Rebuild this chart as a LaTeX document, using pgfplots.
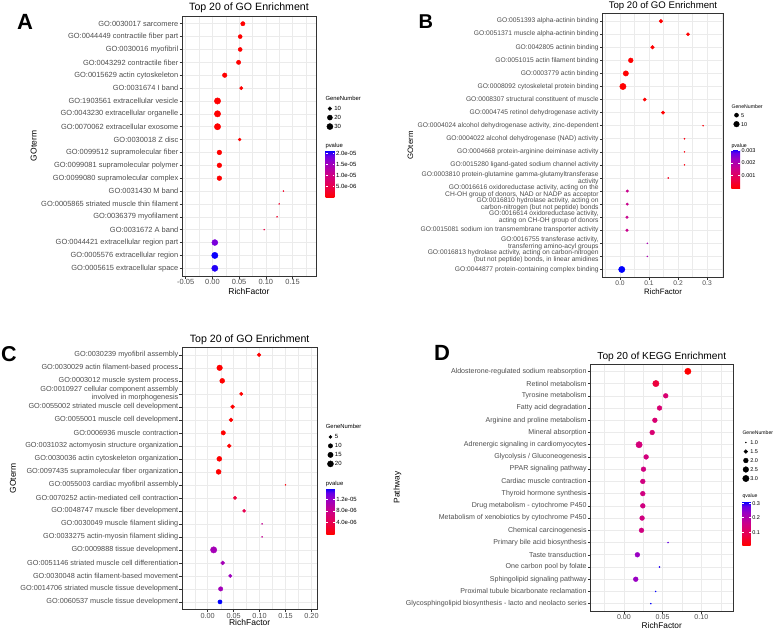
\documentclass[border=0pt]{standalone}
\usepackage{fontspec}
\setmainfont{Liberation Sans}
\usepackage{pgfplots}
\usepackage{pgfplotstable}
\pgfplotsset{compat=1.18}
\definecolor{tickgray}{RGB}{77,77,77}
\definecolor{gridgray}{RGB}{235,235,235}
\definecolor{framegray}{RGB}{51,51,51}

\pgfplotstableread{
y x n p
1 0.057 14 1e-8
2 0.052 12 1e-8
3 0.052 12 1e-8
4 0.049 14 1e-8
5 0.023 16 1e-8
6 0.054 8 1e-8
7 0.0095 33 1e-8
8 0.0095 33 1e-8
9 0.0095 33 1e-8
10 0.051 6 1e-8
11 0.013 17 1e-8
12 0.013 17 1e-8
13 0.013 17 1e-8
14 0.133 2 2.5e-6
15 0.125 2 3e-6
16 0.121 2 3e-6
17 0.097 2 4.5e-6
18 0.0045 29 1.8e-5
19 0.0045 33 2.1e-5
20 0.0045 32 2.05e-5
}\dataA

\pgfplotstableread{
y x n p
1 0.141 4 1e-5
2 0.234 3 1e-5
3 0.112 4 1e-5
4 0.037 7 1e-5
5 0.020 9 1e-5
6 0.010 13 1e-5
7 0.085 3 1e-5
8 0.148 3 1e-5
9 0.286 1 1e-4
10 0.222 1 1.5e-4
11 0.222 1 1.5e-4
12 0.222 1 1.5e-4
13 0.166 1 3e-4
14 0.025 2 0.0016
15 0.025 2 0.0016
16 0.024 2 0.0016
17 0.024 2 0.0016
18 0.094 1 0.0021
19 0.094 1 0.0021
20 0.006 13 0.0031
}\dataB

\pgfplotstableread{
y x n p
1 0.099 7 1e-9
2 0.023 17 1e-9
3 0.028 13 1e-9
4 0.0646 6 1e-9
5 0.048 8 1e-9
6 0.0448 8 1e-9
7 0.030 10 1e-9
8 0.0416 8 1e-9
9 0.0224 13 1e-9
10 0.021 13 1e-9
11 0.150 2 5e-7
12 0.0525 6 3e-6
13 0.0703 5 4e-6
14 0.1048 2 8.5e-6
15 0.1048 2 8.5e-6
16 0.0115 22 1.1e-5
17 0.0288 8 1.1e-5
18 0.0435 6 1.15e-5
19 0.025 10 1.12e-5
20 0.0237 9 1.58e-5
}\dataC

\pgfplotstableread{
y x n p
1 0.0826 3 0.012
2 0.0413 3 0.07
3 0.054 2 0.13
4 0.046 2 0.13
5 0.040 2 0.13
6 0.0365 2 0.13
7 0.0196 3 0.14
8 0.0287 2 0.145
9 0.0253 2 0.15
10 0.0244 2 0.15
11 0.0244 2 0.15
12 0.0244 2 0.15
13 0.0235 2 0.15
14 0.0227 2 0.15
15 0.057 1 0.28
16 0.0174 2 0.235
17 0.046 1 0.30
18 0.0153 2 0.235
19 0.041 1 0.31
20 0.0348 1 0.31
}\dataD

\pgfplotsset{
  colormap={rb}{rgb255(0pt)=(255,0,0) rgb255(25pt)=(232,0,79) rgb255(50pt)=(204,0,137) rgb255(75pt)=(154,0,195) rgb255(90pt)=(104,0,231) rgb255(100pt)=(0,0,255)},
  enrich/.style={
    scale only axis,
    colormap name=rb,
    y dir=reverse, ymin=0.4, ymax=20.6, ytick={1,...,20},
    axis line style={framegray, line width=0.6pt},
    tick align=outside, tick pos=left,
    major tick length=2.5pt,
    major tick style={framegray, line width=0.5pt},
    minor tick length=0pt,
    xmajorgrids, ymajorgrids, xminorgrids,
    major grid style={gridgray, line width=0.55pt},
    minor grid style={gridgray, line width=0.3pt},
    yticklabel style={text=tickgray, align=right, inner sep=1pt},
    xticklabel style={text=tickgray, inner sep=1pt},
    scaled x ticks=false,
    clip=false,
    legend cell align=left,
    legend style={draw=none, fill=none, inner sep=0pt, anchor=north west, row sep=0pt, column sep=0.5pt,
      nodes={inner sep=0.5pt, text depth=0pt}},
    legend image code/.code={\path[draw=none,fill=none] (0pt,-4.5pt) rectangle (7pt,4.5pt); \draw[##1, draw=black, fill=black, mark options={draw=black, fill=black}] plot coordinates {(3.5pt,0pt)};},
    colorbar,
    colorbar shift/.style={},
    colorbar style={at={(parent axis.north east)}, anchor=north west, scale only axis,
      axis line style={draw=none}, x axis line style={draw=none}, y axis line style={draw=none},
      xtick=\empty, ytick pos=both, yticklabel pos=right,
      tick align=inside, major tick length=1.8pt,
      major tick style={white, line width=0.6pt},
      yticklabel style={text=black, inner sep=1.5pt},
      scaled y ticks=false},
  },
  dots/.style={scatter, only marks, mark=*, forget plot, point meta=explicit,
    scatter/use mapped color={draw=mapped color, fill=mapped color},
    scatter/@pre marker code/.append style={/tikz/mark size=\msz}},
}

\begin{document}
\begin{tikzpicture}
\useasboundingbox (0,0) rectangle (777pt,-630pt);

% ---------------- A ----------------
\begin{axis}[enrich,
  at={(182pt,-16pt)}, anchor=north west, width=134pt, height=260pt,
  xmin=-0.057, xmax=0.194,
  xtick={-0.05,0,0.05,0.1,0.15}, xticklabels={-0.05,0.00,0.05,0.10,0.15},
  minor xtick={-0.025,0.025,0.075,0.125,0.175},
  yticklabels={GO:0030017 sarcomere,GO:0044449 contractile fiber part,GO:0030016 myofibril,GO:0043292 contractile fiber,GO:0015629 actin cytoskeleton,GO:0031674 I band,GO:1903561 extracellular vesicle,GO:0043230 extracellular organelle,GO:0070062 extracellular exosome,GO:0030018 Z disc,GO:0099512 supramolecular fiber,GO:0099081 supramolecular polymer,GO:0099080 supramolecular complex,GO:0031430 M band,GO:0005865 striated muscle thin filament,GO:0036379 myofilament,GO:0031672 A band,GO:0044421 extracellular region part,GO:0005576 extracellular region,GO:0005615 extracellular space},
  ticklabel style={font=\fontsize{7.45}{8.5}\selectfont},
  title={Top 20 of GO Enrichment},
  title style={font=\fontsize{10.6}{12}\selectfont, at={(0.5,1)}, anchor=base, yshift=-0.5pt},
  xlabel={RichFactor}, xlabel style={font=\fontsize{8.5}{10}\selectfont, at={(0.5,0)}, anchor=base, yshift=-18pt},
  ylabel={GOterm}, ylabel style={font=\fontsize{8.5}{10}\selectfont},
  point meta min=0, point meta max=2.12e-5,
  colorbar style={xshift=9.7pt, yshift=-134.7pt, width=8.6pt, height=47pt,
    ytick={5e-6,1e-5,1.5e-5,2e-5}, yticklabels={5.0e-06,1.0e-05,1.5e-05,2.0e-05},
    yticklabel style={font=\fontsize{6}{7}\selectfont}},
  legend style={at={(1.076,0.662)}, font=\fontsize{6}{7}\selectfont},
]
\addplot[dots, visualization depends on={0.53*(1+5*sqrt((\thisrow{n}-2)/31)) \as \msz}] table[x=x,y=y,meta=p]{\dataA};
\addlegendimage{mark=*, mark size=1.88pt}\addlegendentry{10}
\addlegendimage{mark=*, mark size=2.55pt}\addlegendentry{20}
\addlegendimage{mark=*, mark size=3.05pt}\addlegendentry{30}
\end{axis}

% ---------------- B ----------------
\begin{axis}[enrich,
  at={(602.3pt,-13.3pt)}, anchor=north west, width=121.4pt, height=264pt,
  xmin=-0.061, xmax=0.357,
  xtick={0,0.1,0.2,0.3}, xticklabels={0.0,0.1,0.2,0.3},
  minor xtick={-0.05,0.05,0.15,0.25,0.35},
  yticklabels={GO:0051393 alpha-actinin binding,GO:0051371 muscle alpha-actinin binding,GO:0042805 actinin binding,GO:0051015 actin filament binding,GO:0003779 actin binding,GO:0008092 cytoskeletal protein binding,GO:0008307 structural constituent of muscle,GO:0004745 retinol dehydrogenase activity,{GO:0004024 alcohol dehydrogenase activity, zinc-dependent},GO:0004022 alcohol dehydrogenase (NAD) activity,GO:0004668 protein-arginine deiminase activity,GO:0015280 ligand-gated sodium channel activity,{GO:0003810 protein-glutamine gamma-glutamyltransferase\\activity},{GO:0016616 oxidoreductase activity, acting on the\\CH-OH group of donors, NAD or NADP as acceptor},{GO:0016810 hydrolase activity, acting on\\carbon-nitrogen (but not peptide) bonds},{GO:0016614 oxidoreductase activity,\\acting on CH-OH group of donors},GO:0015081 sodium ion transmembrane transporter activity,{GO:0016755 transferase activity,\\transferring amino-acyl groups},{GO:0016813 hydrolase activity, acting on carbon-nitrogen\\(but not peptide) bonds, in linear amidines},GO:0044877 protein-containing complex binding},
  ticklabel style={font=\fontsize{6.7}{6.9}\selectfont},
  title={Top 20 of GO Enrichment},
  title style={font=\fontsize{9.6}{11}\selectfont, at={(0.5,1)}, anchor=base, yshift=-1.5pt},
  xlabel={RichFactor}, xlabel style={font=\fontsize{7.8}{9}\selectfont, at={(0.5,0)}, anchor=base, yshift=-16.7pt},
  ylabel={GOterm}, ylabel style={font=\fontsize{7.8}{9}\selectfont},
  point meta min=0, point meta max=0.0031,
  colorbar style={xshift=7.6pt, yshift=-135.7pt, width=8.7pt, height=39.3pt,
    ytick={0.001,0.002,0.003}, yticklabels={0.001,0.002,0.003},
    yticklabel style={font=\fontsize{5.5}{6.5}\selectfont}},
  legend style={at={(1.075,0.632)}, font=\fontsize{5.5}{6.5}\selectfont},
]
\addplot[dots, visualization depends on={0.53*(1+5*sqrt((\thisrow{n}-1)/12)) \as \msz}] table[x=x,y=y,meta=p]{\dataB};
\addlegendimage{mark=*, mark size=2.06pt}\addlegendentry{5}
\addlegendimage{mark=*, mark size=2.83pt}\addlegendentry{10}
\end{axis}

% ---------------- C ----------------
\begin{axis}[enrich,
  at={(182pt,-347pt)}, anchor=north west, width=135.3pt, height=262.7pt,
  xmin=-0.0495, xmax=0.2112,
  xtick={-0.05,0,0.05,0.1,0.15,0.2}, xticklabels={-0.05,0.00,0.05,0.10,0.15,0.20},
  minor xtick={-0.025,0.025,0.075,0.125,0.175},
  yticklabels={GO:0030239 myofibril assembly,GO:0030029 actin filament-based process,GO:0003012 muscle system process,{GO:0010927 cellular component assembly\\involved in morphogenesis},GO:0055002 striated muscle cell development,GO:0055001 muscle cell development,GO:0006936 muscle contraction,GO:0031032 actomyosin structure organization,GO:0030036 actin cytoskeleton organization,GO:0097435 supramolecular fiber organization,GO:0055003 cardiac myofibril assembly,GO:0070252 actin-mediated cell contraction,GO:0048747 muscle fiber development,GO:0030049 muscle filament sliding,GO:0033275 actin-myosin filament sliding,GO:0009888 tissue development,GO:0051146 striated muscle cell differentiation,GO:0030048 actin filament-based movement,GO:0014706 striated muscle tissue development,GO:0060537 muscle tissue development},
  ticklabel style={font=\fontsize{7.3}{7.7}\selectfont},
  title={Top 20 of GO Enrichment},
  title style={font=\fontsize{10.6}{12}\selectfont, at={(0.5,1)}, anchor=base, yshift=-1pt},
  xlabel={RichFactor}, xlabel style={font=\fontsize{8.5}{10}\selectfont, at={(0.5,0)}, anchor=base, yshift=-15.5pt},
  ylabel={GOterm}, ylabel style={font=\fontsize{8.5}{10}\selectfont},
  point meta min=0, point meta max=1.58e-5,
  colorbar style={xshift=9pt, yshift=-141.3pt, width=8.4pt, height=45.7pt,
    ytick={4e-6,8e-6,1.2e-5}, yticklabels={4.0e-06,8.0e-06,1.2e-05},
    yticklabel style={font=\fontsize{6}{7}\selectfont}},
  legend style={at={(1.070,0.6757)}, font=\fontsize{6}{7}\selectfont},
]
\addplot[dots, visualization depends on={0.53*(1+5*sqrt((\thisrow{n}-2)/20)) \as \msz}] table[x=x,y=y,meta=p]{\dataC};
\addlegendimage{mark=*, mark size=1.56pt}\addlegendentry{5}
\addlegendimage{mark=*, mark size=2.2pt}\addlegendentry{10}
\addlegendimage{mark=*, mark size=2.67pt}\addlegendentry{15}
\addlegendimage{mark=*, mark size=3.04pt}\addlegendentry{20}
\end{axis}

% ---------------- D ----------------
\begin{axis}[enrich,
  at={(590.3pt,-364pt)}, anchor=north west, width=143pt, height=247pt,
  xmin=-0.0434, xmax=0.1413,
  xtick={0,0.05,0.1}, xticklabels={0.00,0.05,0.10},
  minor xtick={-0.025,0.025,0.075,0.125},
  yticklabels={Aldosterone-regulated sodium reabsorption,Retinol metabolism,Tyrosine metabolism,Fatty acid degradation,Arginine and proline metabolism,Mineral absorption,Adrenergic signaling in cardiomyocytes,Glycolysis / Gluconeogenesis,PPAR signaling pathway,Cardiac muscle contraction,Thyroid hormone synthesis,Drug metabolism - cytochrome P450,Metabolism of xenobiotics by cytochrome P450,Chemical carcinogenesis,Primary bile acid biosynthesis,Taste transduction,One carbon pool by folate,Sphingolipid signaling pathway,Proximal tubule bicarbonate reclamation,Glycosphingolipid biosynthesis - lacto and neolacto series},
  ticklabel style={font=\fontsize{7.07}{8}\selectfont},
  title={Top 20 of KEGG Enrichment},
  title style={font=\fontsize{10.2}{12}\selectfont, at={(0.5,1)}, anchor=base, yshift=-1.3pt},
  xlabel={RichFactor}, xlabel style={font=\fontsize{8.3}{10}\selectfont, at={(0.5,0)}, anchor=base, yshift=-17.5pt},
  ylabel={Pathway}, ylabel style={font=\fontsize{8.3}{10}\selectfont},
  point meta min=0.012, point meta max=0.31,
  colorbar style={xshift=9pt, yshift=-137.7pt, width=8.4pt, height=43.3pt,
    ytick={0.1,0.2,0.3}, yticklabels={0.1,0.2,0.3},
    yticklabel style={font=\fontsize{5.5}{6.5}\selectfont}},
  legend style={at={(1.062,0.7012)}, font=\fontsize{5.5}{6.5}\selectfont},
]
\addplot[dots, visualization depends on={0.53*(1+5*sqrt((\thisrow{n}-1)/2)) \as \msz}] table[x=x,y=y,meta=p]{\dataD};
\addlegendimage{mark=*, mark size=0.53pt}\addlegendentry{1.0}
\addlegendimage{mark=*, mark size=1.86pt}\addlegendentry{1.5}
\addlegendimage{mark=*, mark size=2.4pt}\addlegendentry{2.0}
\addlegendimage{mark=*, mark size=2.83pt}\addlegendentry{2.5}
\addlegendimage{mark=*, mark size=3.18pt}\addlegendentry{3.0}
\end{axis}

% legend titles
\node[anchor=base west, font=\fontsize{5.9}{7}\selectfont, inner sep=0pt] at (325.3pt,-100.5pt) {GeneNumber};
\node[anchor=base west, font=\fontsize{5.9}{7}\selectfont, inner sep=0pt] at (325.3pt,-147.8pt) {pvalue};
\node[anchor=base west, font=\fontsize{5.2}{6}\selectfont, inner sep=0pt] at (731.3pt,-108.6pt) {GeneNumber};
\node[anchor=base west, font=\fontsize{5.2}{6}\selectfont, inner sep=0pt] at (731.3pt,-147.6pt) {pvalue};
\node[anchor=base west, font=\fontsize{5.9}{7}\selectfont, inner sep=0pt] at (325.7pt,-428.7pt) {GeneNumber};
\node[anchor=base west, font=\fontsize{5.9}{7}\selectfont, inner sep=0pt] at (325.7pt,-485.3pt) {pvalue};
\node[anchor=base west, font=\fontsize{5.1}{6}\selectfont, inner sep=0pt] at (742.3pt,-434.8pt) {GeneNumber};
\node[anchor=base west, font=\fontsize{5.1}{6}\selectfont, inner sep=0pt] at (742.3pt,-497.8pt) {qvalue};

% panel letters
\node[anchor=base, font=\fontsize{22}{24}\selectfont\bfseries, inner sep=0pt] at (25pt,-29.3pt) {A};
\node[anchor=base, font=\fontsize{20}{22}\selectfont\bfseries, inner sep=0pt] at (425.8pt,-28.3pt) {B};
\node[anchor=base, font=\fontsize{21.5}{24}\selectfont\bfseries, inner sep=0pt] at (9pt,-361pt) {C};
\node[anchor=base, font=\fontsize{22}{24}\selectfont\bfseries, inner sep=0pt] at (442pt,-360.7pt) {D};
\end{tikzpicture}
\end{document}
